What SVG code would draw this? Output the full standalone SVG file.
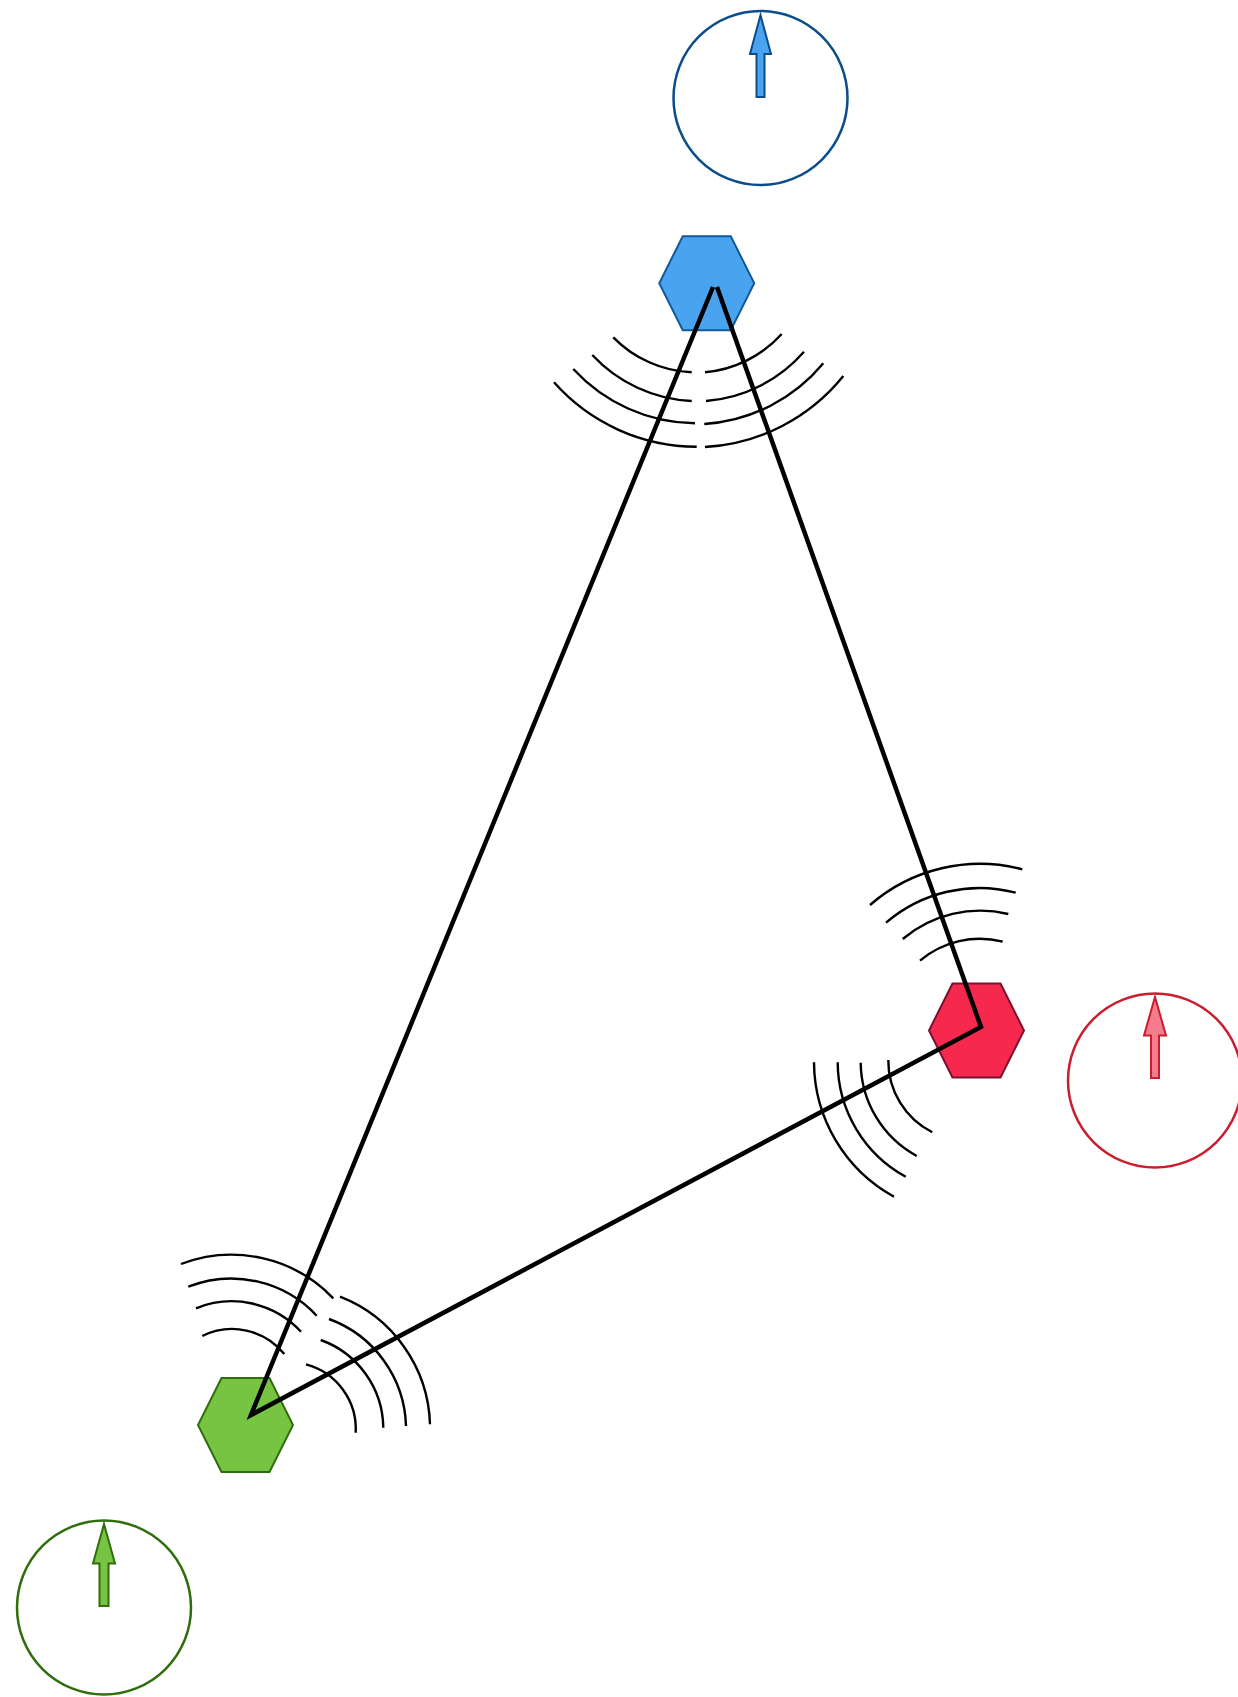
<svg xmlns="http://www.w3.org/2000/svg" width="1238" height="1697" viewBox="0 0 1238 1697">
  <style>
    .wave { fill: none; stroke: #000; stroke-width: 2.4; stroke-linecap: butt; }
    .link { fill: none; stroke: #000; stroke-width: 4.5; stroke-linejoin: miter; }
    .hex { stroke-width: 2; stroke-linejoin: miter; }
    .dial { fill: #fff; stroke-width: 2.5; }
    .needle { stroke-width: 2; stroke-linejoin: miter; }
  </style>
  <defs>
    <polygon id="hexShape" points="-24,-47 24,-47 47.5,0 24,47 -24,47 -47.5,0"/>
  </defs>
  <rect x="0" y="0" width="1238" height="1697" fill="#ffffff"/>

  <g id="node-blue">
    <use href="#hexShape" x="706.75" y="283.25" class="hex" fill="#4aa3ef" stroke="#12599a"/>
  </g>
  <g id="node-red">
    <use href="#hexShape" x="976.5" y="1030.5" class="hex" fill="#f7284d" stroke="#7a1030"/>
  </g>
  <g id="node-green">
    <use href="#hexShape" x="245.5" y="1425" class="hex" fill="#76c442" stroke="#2e6e0d"/>
  </g>

  <g id="clock-blue">
    <circle cx="760.5" cy="98" r="87" class="dial" stroke="#0b4c8a"/>
    <path d="M760.5,15 L771,54 L764.5,54 L764.5,97 L756.5,97 L756.5,54 L750,54 Z" class="needle" fill="#4aa3ef" stroke="#0b4c8a"/>
  </g>
  <g id="clock-red">
    <circle cx="1155" cy="1080.5" r="87" class="dial" stroke="#c81e2d"/>
    <path d="M1155,997 L1166,1035.5 L1159,1035.5 L1159,1078 L1151,1078 L1151,1035.5 L1144,1035.5 Z" class="needle" fill="#f47c8c" stroke="#c81e2d"/>
  </g>
  <g id="clock-green">
    <circle cx="104" cy="1607.5" r="87" class="dial" stroke="#2e6e0d"/>
    <path d="M104,1524 L115,1563.5 L108.5,1563.5 L108.5,1606 L99.5,1606 L99.5,1563.5 L93,1563.5 Z" class="needle" fill="#76c442" stroke="#2e6e0d"/>
  </g>

  <g id="waves-blue">
    <path class="wave" d="M613.3,337.3 A117 117 0 0 0 691.7,372.3"/>
    <path class="wave" d="M592.3,355 A145 145 0 0 0 691.7,401"/>
    <path class="wave" d="M573.3,369 A168 168 0 0 0 695,423.3"/>
    <path class="wave" d="M554,382.3 A191 191 0 0 0 696.7,446.7"/>
    <path class="wave" d="M705,372.3 A117 117 0 0 0 781.7,334"/>
    <path class="wave" d="M706,401 A145 145 0 0 0 804,351.7"/>
    <path class="wave" d="M704.3,424 A168 168 0 0 0 823.3,363.3"/>
    <path class="wave" d="M705,447 A191 191 0 0 0 843.3,376"/>
  </g>
  <g id="waves-red">
    <path class="wave" d="M920,960.7 A92.5 92.5 0 0 1 1002.7,941.7"/>
    <path class="wave" d="M902.7,939 A120.5 120.5 0 0 1 1008.3,914"/>
    <path class="wave" d="M886,922.7 A143.4 143.4 0 0 1 1015.7,892.7"/>
    <path class="wave" d="M870,905 A167.5 167.5 0 0 1 1022.3,869.3"/>
    <path class="wave" d="M888.3,1060 A80 80 0 0 0 932.3,1132.3"/>
    <path class="wave" d="M860.7,1062.7 A107.5 107.5 0 0 0 916.7,1156"/>
    <path class="wave" d="M837.7,1062.3 A130.8 130.8 0 0 0 905.7,1176.7"/>
    <path class="wave" d="M814,1062.3 A154.3 154.3 0 0 0 894,1196.7"/>
  </g>
  <g id="waves-green">
    <path class="wave" d="M202.3,1336 A67 67 0 0 1 284.3,1354"/>
    <path class="wave" d="M196,1308.3 A94 94 0 0 1 301,1331.7"/>
    <path class="wave" d="M188.3,1286.7 A117 117 0 0 1 316.7,1315.7"/>
    <path class="wave" d="M181,1264 A141 141 0 0 1 333.3,1298.3"/>
    <path class="wave" d="M306,1364.3 A67 67 0 0 1 355.7,1432.7"/>
    <path class="wave" d="M320.7,1340 A94.5 94.5 0 0 1 383.3,1427.7"/>
    <path class="wave" d="M329,1319 A117.5 117.5 0 0 1 406,1426"/>
    <path class="wave" d="M340,1296.7 A141.5 141.5 0 0 1 430,1424.3"/>
  </g>

  <g id="connectors">
    <path class="link" d="M717,287 L981,1027 L251,1415 L713,287"/>
  </g>
</svg>
